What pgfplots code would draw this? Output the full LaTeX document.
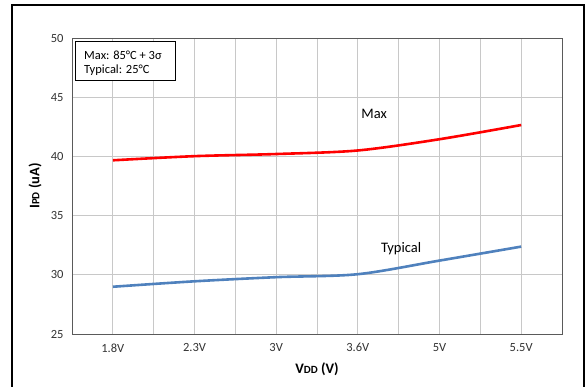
\documentclass[border=0pt]{standalone}
\usepackage{pgfplots}
\pgfplotsset{compat=1.18}
\usepackage{fontspec}
\setmainfont{Carlito}
\definecolor{maxred}{RGB}{255,0,0}
\definecolor{typblue}{RGB}{79,129,189}
\definecolor{gridgray}{RGB}{200,200,200}
\definecolor{boxgray}{RGB}{90,90,90}
\begin{document}
\begin{tikzpicture}[x=1pt,y=1pt]
\useasboundingbox (0,0) rectangle (586,387);
\draw[line width=2.2pt,black] (12,-20) -- (12,382) -- (584,382) -- (584,-20);
\begin{axis}[
  at={(72pt,53pt)}, anchor=south west,
  scale only axis, width=490pt, height=296pt,
  xmin=-0.5, xmax=5.5, ymin=25, ymax=50,
  xtick={0,1,2,3,4,5},
  xticklabels={1.8V,2.3V,3V,3.6V,5V,5.5V},
  minor xtick={0.5,1.5,2.5,3.5,4.5},
  ytick={25,30,35,40,45,50},
  grid=both,
  major grid style={gridgray, line width=0.9pt},
  minor grid style={gridgray, line width=0.9pt},
  major tick length=0pt, minor tick length=0pt,
  axis line style={boxgray, line width=0.9pt},
  tick label style={font=\fontsize{12.5}{14}\selectfont, text=black!80},
  /pgf/number format/assume math mode=true,
  xticklabel style={yshift=-6pt},
  yticklabel style={xshift=-5pt},
  xlabel={\bfseries V{\fontsize{11}{13}\selectfont DD} (V)},
  ylabel={\bfseries I{\fontsize{11}{13}\selectfont PD} (uA)},
  xlabel style={at={(axis description cs:0.5,-0.118)}, anchor=center, font=\fontsize{14.5}{16}\selectfont},
  ylabel style={at={(axis description cs:-0.0755,0.5)}, anchor=center, rotate=0, font=\fontsize{14.5}{16}\selectfont},
  clip=false,
]
\addplot[maxred, line width=2.6pt, smooth, tension=0.5] coordinates {
  (0,39.67) (1,40.02) (2,40.2) (3,40.5) (4,41.45) (5,42.65)
};
\addplot[typblue, line width=2.6pt, smooth, tension=0.5] coordinates {
  (0,28.99) (1,29.45) (2,29.8) (3,30.05) (4,31.2) (5,32.38)
};
\node[font=\fontsize{14.5}{16}\selectfont] at (axis cs:3.2,43.55) {Max};
\node[font=\fontsize{14.5}{16}\selectfont] at (axis cs:3.53,32.2) {Typical};
\draw[black, line width=0.8pt, fill=white] (axis description cs:0.006,0.99) rectangle (axis description cs:0.212,0.858);
\node[anchor=west, font=\fontsize{12.5}{14}\selectfont, inner sep=0pt] at (axis description cs:0.0245,0.9426) {Max: 85°C + 3σ};
\node[anchor=west, font=\fontsize{12.5}{14}\selectfont, inner sep=0pt] at (axis description cs:0.0245,0.892) {Typical: 25°C};
\end{axis}
\end{tikzpicture}
\end{document}
